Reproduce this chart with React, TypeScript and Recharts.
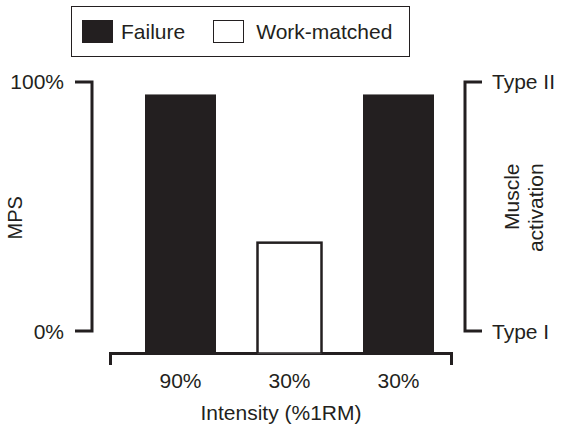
import { BarChart, Bar, XAxis, YAxis, Legend, ReferenceArea } from "recharts";

const intensities = ["90%", "30%", "30%"];
const protocols = ["Failure", "Work-matched", "Failure"];
const mpsValues = [95, 36, 95];
const mpsTicks = [0, 100];
const fiberLabels = ["Type I", "Type II"];
const legendNames = ["Failure", "Work-matched"];

// bars start at the axis line, a little below the 0% mark
const MPS_FLOOR = -9;
const X_PAD = 17;
const INK = "#231f20";
const FONT = "'Liberation Sans', Arial, Helvetica, sans-serif";

const data = intensities.map((intensity, i) => ({
  intensity,
  protocol: protocols[i],
  mps: [MPS_FLOOR, mpsValues[i]],
}));

function ProtocolBar(props: any) {
  const { x, y, width, height } = props;
  const protocol = props.payload?.protocol ?? props.protocol;
  if (protocol === "Work-matched") {
    return (
      <rect
        x={x + 3.5}
        y={y + 1.25}
        width={width - 7}
        height={height - 1.25}
        fill="#fff"
        stroke={INK}
        strokeWidth={2.5}
      />
    );
  }
  return <rect x={x} y={y} width={width} height={height} fill={INK} />;
}

// brackets joining the 0% / 100% ticks on both sides
function ScaleBrackets(props: any) {
  const { x, y, width, height } = props;
  const left = x - X_PAD - 17;
  const right = x + width + 12;
  const bottom = y + height;
  return (
    <g stroke={INK} strokeWidth={3} fill="none">
      <polyline points={`${left - 17},${y} ${left},${y} ${left},${bottom} ${left - 17},${bottom}`} />
      <polyline points={`${right + 17},${y} ${right},${y} ${right},${bottom} ${right + 17},${bottom}`} />
    </g>
  );
}

function AxisEnds(props: any) {
  const { x, y, width, height } = props;
  const base = y + height;
  const start = x - X_PAD + 1.5;
  const end = x + width - 1.5;
  return (
    <polyline
      points={`${start},${base + 11.5} ${start},${base} ${end},${base} ${end},${base + 11.5}`}
      stroke={INK}
      strokeWidth={3}
      fill="none"
    />
  );
}

function LegendBox() {
  const gaps = [8, 12];
  return (
    <div
      style={{
        boxSizing: "border-box",
        width: 339,
        height: 51,
        border: `1.5px solid ${INK}`,
        display: "flex",
        alignItems: "center",
        paddingLeft: 10,
        fontFamily: FONT,
        fontSize: 21,
        color: INK,
        whiteSpace: "nowrap",
      }}
    >
      {legendNames.map((name, i) => (
        <div key={name} style={{ display: "flex", alignItems: "center", marginRight: 28, flexShrink: 0 }}>
          <span
            style={{
              display: "inline-block",
              boxSizing: "border-box",
              width: 31,
              height: 23,
              background: i === 0 ? INK : "#fff",
              border: `1.5px solid ${INK}`,
              marginRight: gaps[i],
            }}
          />
          {name}
        </div>
      ))}
    </div>
  );
}

function MpsLabel(props: any) {
  const vb = props.viewBox;
  const tx = vb.x + 15;
  const ty = vb.y + vb.height / 2;
  return (
    <text x={tx} y={ty} transform={`rotate(-90 ${tx} ${ty})`} textAnchor="middle" dominantBaseline="central" fill={INK} fontSize={20}>
      MPS
    </text>
  );
}

function FiberLabel(props: any) {
  const vb = props.viewBox;
  const cy = vb.y + vb.height / 2;
  const lines = [
    { text: "Muscle", dx: 58, dy: -21 },
    { text: "activation", dx: 82, dy: -10 },
  ];
  return (
    <g>
      {lines.map((l) => {
        const tx = vb.x + l.dx;
        const ty = cy + l.dy;
        return (
          <text key={l.text} x={tx} y={ty} transform={`rotate(-90 ${tx} ${ty})`} textAnchor="middle" dominantBaseline="central" fill={INK} fontSize={21}>
            {l.text}
          </text>
        );
      })}
    </g>
  );
}

function IntensityLabel(props: any) {
  const vb = props.viewBox;
  return (
    <text x={vb.x + vb.width / 2} y={vb.y + 66} textAnchor="middle" fill={INK} fontSize={21}>
      Intensity (%1RM)
    </text>
  );
}

export default function App() {
  return (
    <div style={{ position: "absolute", left: 0, top: 0, width: 561, height: 426, background: "#fff", fontFamily: FONT }}>
      <BarChart width={561} height={426} data={data} margin={{ top: 82, right: 0, bottom: 0, left: 0 }}>
        <XAxis
          dataKey="intensity"
          height={72.5}
          padding={{ left: X_PAD, right: 0 }}
          axisLine={false}
          tickLine={false}
          tickSize={0}
          tickMargin={20}
          tick={{ fill: INK, fontSize: 21 }}
          label={IntensityLabel}
        />
        <YAxis
          yAxisId="mps"
          width={109}
          domain={[MPS_FLOOR, 100]}
          ticks={mpsTicks}
          allowDataOverflow
          axisLine={false}
          tickLine={false}
          tickSize={0}
          tickMargin={45}
          tick={{ fill: INK, fontSize: 21 }}
          tickFormatter={(v) => `${v}%`}
          label={MpsLabel}
        />
        <YAxis
          yAxisId="fiber"
          orientation="right"
          width={108}
          domain={[MPS_FLOOR, 100]}
          ticks={mpsTicks}
          allowDataOverflow
          axisLine={false}
          tickLine={false}
          tickSize={0}
          tickMargin={39}
          tick={{ fill: INK, fontSize: 21, textAnchor: "start" }}
          tickFormatter={(v) => fiberLabels[mpsTicks.indexOf(v)]}
          label={FiberLabel}
        />
        <Legend verticalAlign="middle" align="center" layout="horizontal" wrapperStyle={{ top: 6, left: 71, width: 339, height: 51 }} content={LegendBox} />
        <ReferenceArea yAxisId="mps" y1={0} y2={100} ifOverflow="visible" fill="none" stroke="none" shape={ScaleBrackets} />
        <ReferenceArea yAxisId="mps" y1={MPS_FLOOR} y2={100} ifOverflow="visible" fill="none" stroke="none" shape={AxisEnds} />
        <Bar yAxisId="mps" dataKey="mps" barSize={71} isAnimationActive={false} shape={ProtocolBar} />
      </BarChart>
    </div>
  );
}
